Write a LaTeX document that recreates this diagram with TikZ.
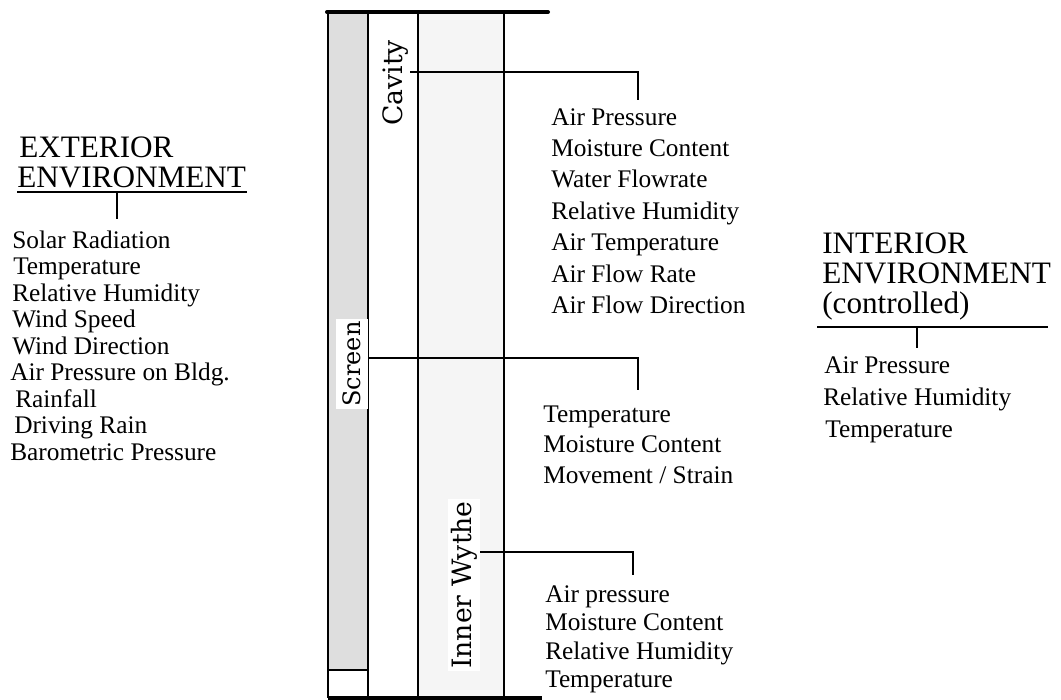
\documentclass[tikz,border=0pt]{standalone}
\usepackage{fontspec}
\setmainfont{Liberation Serif}
\newfontfamily\wallfont{DejaVu Serif}
\definecolor{screengray}{HTML}{DEDEDE}
\definecolor{wythegray}{HTML}{F5F5F5}
\tikzset{
  item/.style={anchor=base west,inner sep=0pt,font=\fontsize{19}{19}\selectfont},
  head/.style={anchor=base west,inner sep=0pt,font=\fontsize{23.4}{23.4}\selectfont},
  layer/.style={rotate=90,inner sep=0pt,inner xsep=2pt,font=\wallfont\fontsize{20}{20}\selectfont},
  wall/.style={line width=1.5pt},
  lead/.style={line width=1.5pt}
}
\begin{document}
\begin{tikzpicture}[x=0.75pt,y=-0.75pt]
\useasboundingbox (0,0) rectangle (1061,700);
% wall layers
\fill[screengray] (328,12) rectangle (368,670);
\fill[wythegray] (418,12) rectangle (504,698);
\foreach \x in {328,368,418,504}
  \draw[wall] (\x,12) -- (\x,698);
\draw[wall] (328,670) -- (368,670);
\draw[line width=3pt,line cap=round] (327,12) -- (548,12);
\draw[line width=2.5pt] (328,698) -- (542,698);
% layer labels
\node[layer] (cav) at (396,83) {Cavity};
\node[layer,fill=white,minimum height=24pt,font=\wallfont\fontsize{18}{18}\selectfont] (scr) at (352,364) {Screen};
\node[layer,fill=white,minimum height=24pt] (inw) at (464,585) {Inner Wythe};
% leaders
\coordinate (cavin) at (410,72);
\coordinate (cavtip) at (638,100);
\draw[lead] (cavin) -| (cavtip);
\coordinate (scrin) at (368,358);
\coordinate (scrtip) at (638,390);
\draw[lead] (scrin) -| (scrtip);
\coordinate (inwin) at (480,552);
\coordinate (inwtip) at (633,575);
\draw[lead] (inwin) -| (inwtip);
% exterior
\node[head] (ext1) at (19,157) {EXTERIOR};
\node[head] (ext2) at (17,187) {ENVIRONMENT};
\draw[lead] (17,192) -- (247,192);
\coordinate (extbar) at (117,192);
\draw[lead] (extbar) -- ++(0,27);
\foreach \x/\lab [count=\i] in {12/Solar Radiation,13/Temperature,12/Relative Humidity,
    12/Wind Speed,12/Wind Direction,10/Air Pressure on Bldg.,15/Rainfall,14/Driving Rain,
    10/Barometric Pressure}
  \node[item] (ext-\i) at (\x,248+26.5*\i-26.5) {\lab};
% cavity
\foreach \lab [count=\i] in {Air Pressure,Moisture Content,Water Flowrate,Relative Humidity,
    Air Temperature,Air Flow Rate,Air Flow Direction}
  \node[item] (cav-\i) at (551,125+31.4*\i-31.4) {\lab};
% screen
\foreach \lab [count=\i] in {Temperature,Moisture Content,Movement / Strain}
  \node[item] (scr-\i) at (543,422+30.5*\i-30.5) {\lab};
% inner wythe
\foreach \lab [count=\i] in {Air pressure,Moisture Content,Relative Humidity,Temperature}
  \node[item] (inw-\i) at (545,602+28.5*\i-28.5) {\lab};
% interior
\node[head] (int1) at (822,253) {INTERIOR};
\node[head] (int2) at (822,283) {ENVIRONMENT};
\node[head] (int3) at (822,313) {(controlled)};
\draw[lead] (817,327) -- (1048,327);
\coordinate (intbar) at (917,327);
\draw[lead] (intbar) -- ++(0,21);
\foreach \x/\lab [count=\i] in {824/Air Pressure,823/Relative Humidity,825/Temperature}
  \node[item] (int-\i) at (\x,373+32*\i-32) {\lab};
\end{tikzpicture}
\end{document}
